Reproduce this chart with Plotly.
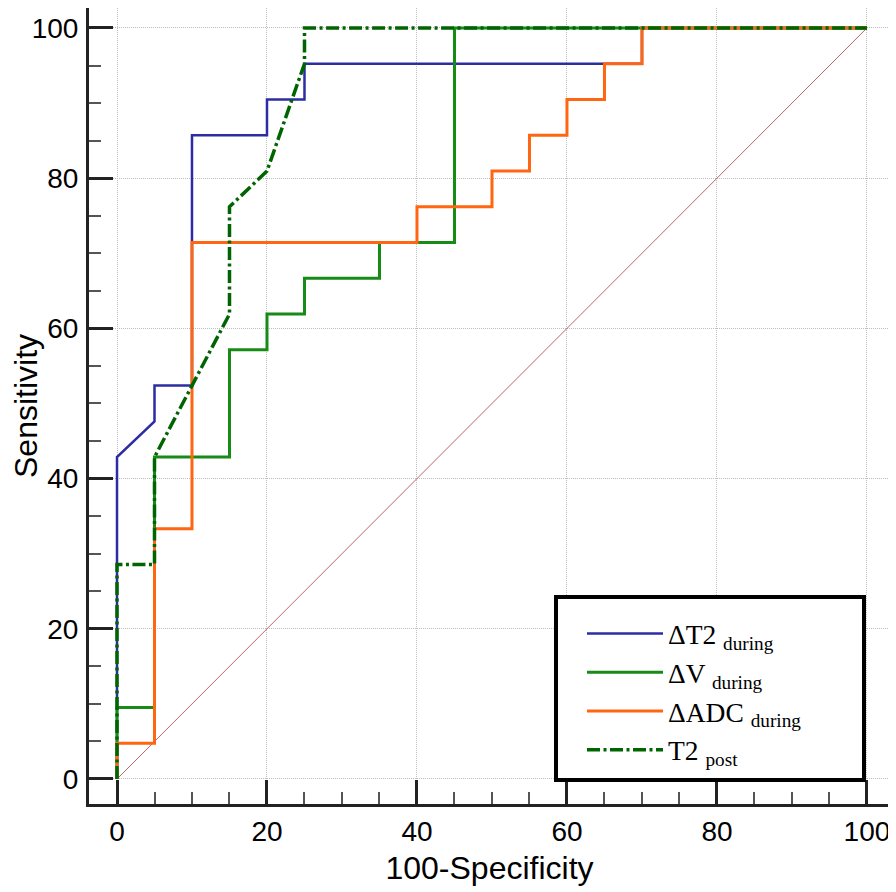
import plotly.graph_objects as go

# ---- data ----
fpr_t2_during = [0, 0, 5, 5, 10, 10, 20, 20, 25, 25, 70, 70, 100]
sens_t2_during = [0, 42.86, 47.62, 52.38, 52.38, 85.71, 85.71, 90.48, 90.48, 95.24, 95.24, 100, 100]

fpr_v_during = [0, 0, 5, 5, 15, 15, 20, 20, 25, 25, 35, 35, 45, 45, 100]
sens_v_during = [0, 9.52, 9.52, 42.86, 42.86, 57.14, 57.14, 61.90, 61.90, 66.67, 66.67, 71.43, 71.43, 100, 100]

fpr_adc_during = [0, 0, 5, 5, 10, 10, 40, 40, 50, 50, 55, 55, 60, 60, 65, 65, 70, 70, 100]
sens_adc_during = [0, 4.76, 4.76, 33.33, 33.33, 71.43, 71.43, 76.19, 76.19, 80.95, 80.95, 85.71, 85.71,
                   90.48, 90.48, 95.24, 95.24, 100, 100]

fpr_t2_post = [0, 0, 5, 5, 15, 15, 20, 25, 25, 100]
sens_t2_post = [0, 28.57, 28.57, 42.86, 61.90, 76.19, 80.95, 95.24, 100, 100]

ref_x = [0, 100]
ref_y = [0, 100]

names = ["ΔT2 <sub>during</sub>", "ΔV <sub>during</sub>", "ΔADC <sub>during</sub>", "T2 <sub>post</sub>"]
tick_vals = [0, 20, 40, 60, 80, 100]

# page body has an 8px margin, so the figure is drawn 8px smaller and offset
PW, PH = 888, 884
ML, MR, MT, MB = 81, 6, 0, 88
plot_w = PW - ML - MR   # 801
plot_h = PH - MT - MB   # 796


def px_x(page_x):
    return (page_x - 8 - ML) / plot_w


def px_y(page_y):
    return (PH - MB - (page_y - 8)) / plot_h


fig = go.Figure()
fig.add_trace(go.Scatter(x=ref_x, y=ref_y, mode="lines", showlegend=False,
                         line=dict(color="#b86868", width=1), hoverinfo="skip"))
fig.add_trace(go.Scatter(x=fpr_t2_during, y=sens_t2_during, mode="lines", name=names[0],
                         line=dict(color="#2d2da2", width=2.5)))
fig.add_trace(go.Scatter(x=fpr_v_during, y=sens_v_during, mode="lines", name=names[1],
                         line=dict(color="#178a17", width=3)))
fig.add_trace(go.Scatter(x=fpr_adc_during, y=sens_adc_during, mode="lines", name=names[2],
                         line=dict(color="#ff6611", width=3)))
fig.add_trace(go.Scatter(x=fpr_t2_post, y=sens_t2_post, mode="lines", name=names[3],
                         line=dict(color="#006400", width=3.5, dash="13px,3.5px,3px,3.5px")))

axis_common = dict(
    showline=True, linecolor="#222222", linewidth=3,
    ticks="inside", ticklen=24, tickwidth=3, tickcolor="#222222",
    tickvals=tick_vals,
    minor=dict(dtick=5, tick0=0, ticks="inside", ticklen=12, tickwidth=1.5, tickcolor="#555555",
               showgrid=False),
    showgrid=True, gridcolor="#bdbdbd", gridwidth=1, griddash="1px,1px",
    zeroline=False,
    tickfont=dict(family="Liberation Sans, Arial, sans-serif", size=28, color="#000000"),
    automargin=False,
)

fig.update_xaxes(**axis_common, range=[-3.733, 103.07], ticklabelstandoff=0,
                 title=dict(text="100-Specificity", standoff=12,
                            font=dict(family="Liberation Sans, Arial, sans-serif", size=32, color="#000")))
fig.update_yaxes(**axis_common, range=[-3.33, 102.66], ticklabelstandoff=2,
                 title=dict(text="Sensitivity", standoff=10,
                            font=dict(family="Liberation Sans, Arial, sans-serif", size=32, color="#000")))

# legend frame
fig.add_shape(type="rect", xref="paper", yref="paper",
              x0=px_x(556), x1=px_x(864), y0=px_y(780), y1=px_y(597),
              line=dict(color="#000000", width=4), fillcolor="#ffffff", layer="above")

fig.update_layout(
    width=PW, height=PH,
    margin=dict(l=ML, r=MR, t=MT, b=MB),
    paper_bgcolor="#ffffff", plot_bgcolor="#ffffff",
    showlegend=True,
    legend=dict(x=px_x(582), y=px_y(609), xanchor="left", yanchor="top",
                bgcolor="rgba(0,0,0,0)", borderwidth=0, itemwidth=76,
                font=dict(family="Liberation Serif, Times New Roman, serif", size=27.5, color="#000")),
)

fig.write_html("out.html")
